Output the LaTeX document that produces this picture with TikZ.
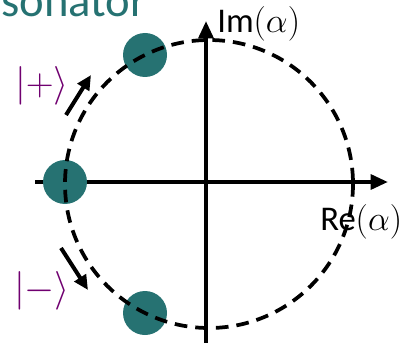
\RequirePackage{fix-cm}
\documentclass[tikz,border=0pt]{standalone}
\usepackage{fontspec}
\setmainfont{Carlito}
\usetikzlibrary{arrows.meta}
\definecolor{dotteal}{RGB}{38,114,114}
\definecolor{ketpurple}{RGB}{112,0,112}
\begin{document}
\begin{tikzpicture}[x=0.75pt,y=-0.75pt,
  axis/.style={line width=3pt,-{Triangle[length=13pt,width=11pt]}},
  ring/.style={line width=2.8pt,dash pattern=on 9.5pt off 6pt},
  dot/.style={circle,fill=dotteal,minimum size=33pt,inner sep=0pt},
  move/.style={line width=3pt,-{Triangle[length=11pt,width=10pt]}},
  ket/.style={text=ketpurple,font=\fontsize{29}{32}\selectfont},
  lab/.style={anchor=base west,inner sep=0pt,font=\fontsize{26}{28}\selectfont}]
\useasboundingbox (0,0) rectangle (406,342);
% axes
\coordinate (xl) at (35,182);
\coordinate (xr) at (388,182);
\coordinate (yb) at (206,345);
\coordinate (yt) at (206,21);
\draw[axis] (xl) -- (xr);
\draw[axis] (yb) -- (yt);
\node[lab] (re) at (320,230) {Re$(\alpha)$};
\node[lab] (im) at (217,33) {Im$(\alpha)$};
% coherent states
\foreach \name/\pos in {plus/{(145,55)},zero/{(65,182)},minus/{(145,313)}}
{
	\node[dot] (\name) at \pos {};
}
\draw[ring] (209,184) circle [radius=144];
% motion
\coordinate (up0) at (66,115);
\coordinate (up1) at (91,75);
\coordinate (dn0) at (61,248);
\coordinate (dn1) at (88,290);
\draw[move] (up0) -- (up1);
\draw[move] (dn0) -- (dn1);
\node[ket] (kplus) at (42,86) {$|+\rangle$};
\node[ket] (kminus) at (42,291) {$|-\rangle$};
\node[anchor=base west,inner sep=0pt,text=dotteal,font=\fontsize{35}{38}\selectfont] (title) at (1,17) {sonator};
\end{tikzpicture}
\end{document}
